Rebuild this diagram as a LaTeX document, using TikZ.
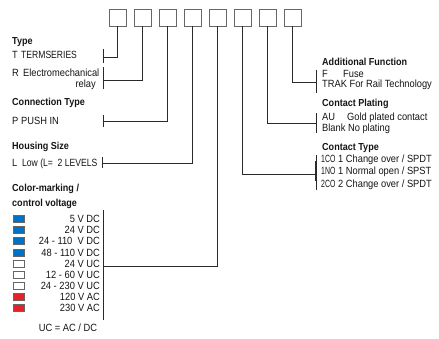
\documentclass[tikz,border=0pt]{standalone}
\usepackage{fontspec}
\setmainfont{Liberation Sans}[FakeStretch=0.89]
\newfontfamily\condA{Liberation Sans}[FakeStretch=0.82]
\newfontfamily\condB{Liberation Sans}[FakeStretch=0.66]
\definecolor{mkblue}{HTML}{0072C6}
\definecolor{mkred}{HTML}{E8202A}
\definecolor{ln}{HTML}{2A2A2A}
\begin{document}
\begin{tikzpicture}[x=1bp,y=-1bp,
  slot/.style={draw=black!60, line width=0.8bp, minimum width=17bp, minimum height=17bp, inner sep=0pt},
  conn/.style={draw=ln, line width=0.8bp},
  bar/.style={draw=ln, line width=0.8bp},
  txt/.style={anchor=base west, inner sep=0pt, font=\fontsize{10.5}{12}\selectfont, text=black!92},
  ttl/.style={txt, font=\fontsize{10.2}{12}\selectfont\bfseries},
  rtxt/.style={anchor=base east, inner sep=0pt, font=\fontsize{10.5}{12}\selectfont, text=black!92},
  colmark/.style={draw=black!60, line width=0.6bp, minimum width=11bp, minimum height=7bp, inner sep=0pt},
]
\useasboundingbox (0,0) rectangle (439,338);
% boxes
\foreach \i in {1,...,8} \node[slot] (b\i) at ({117.5+25*(\i-1)},17.5) {};

% left connectors
\coordinate (jT) at (103,57);
\coordinate (jR) at (103,80);
\coordinate (jP) at (103,121);
\coordinate (jL) at (102,163);
\coordinate (jC) at (103,266);
\draw[conn] (b1.south) |- (jT);
\draw[conn] (b2.south) |- (jR);
\draw[conn] (b3.south) |- (jP);
\draw[conn] (b4.south) |- (jL);
\draw[conn] (b5.south) |- (jC);
\draw[bar] (103,49) -- (103,63);
\draw[bar] (103,67) -- (103,89);
\draw[bar] (103,115) -- (103,127);
\draw[bar] (102,157) -- (102,168);
\draw[bar] (103,210) -- (103,320);

% right connectors
\coordinate (jA) at (316,82);
\coordinate (jG) at (316,123);
\coordinate (jK) at (316,174);
\draw[conn] (b8.south) |- (jA);
\draw[conn] (b7.south) |- (jG);
\draw[conn] (b6.south) |- (jK);
\draw[bar] (316,70) -- (316,93);
\draw[bar] (316,113) -- (316,133);
\draw[bar] (316,155) -- (316,190);
\draw[draw=ln, line width=2bp] (316,161) -- (316,181);

% left texts
\node[ttl] (tType) at (12,44.7) {Type};
\node[txt] (tT) at (12,58.7) {T};
\node[txt, font=\fontsize{10.5}{12}\selectfont\condA] (tTe) at (21,58.7) {TERMSERIES};
\node[txt] (tR) at (12,76.7) {R};
\node[txt] (tRe) at (23,76.7) {Electromechanical};
\node[rtxt] (tRl) at (96,87.7) {relay};
\node[ttl] (tConn) at (12,105.7) {Connection Type};
\node[txt] (tP) at (12,124.7) {P};
\node[txt] (tPu) at (21,124.7) {PUSH IN};
\node[ttl] (tHous) at (12,149.7) {Housing Size};
\node[txt] (tL) at (12,166.2) {L};
\node[txt, font=\fontsize{10.5}{12}\selectfont\condA] (tLo) at (22,166.2) {Low (L=\ \ 2 LEVELS};
\node[ttl] (tCol1) at (12,191.7) {Color-marking /};
\node[ttl] (tCol2) at (12,206.7) {control voltage};

% colour rows
\foreach \c/\v [count=\k from 0] in {mkblue/5 V DC, mkblue/24 V DC, mkblue/24 - 110\ \ V DC, mkblue/48 - 110 V DC, white/24 V UC, white/12 - 60 V UC, white/24 - 230 V UC, mkred/120 V AC, mkred/230 V AC}{
  \node[colmark, fill=\c] (m\k) at (19,{219+11.1*\k}) {};
  \node[rtxt] (v\k) at (100,{222.7+11.1*\k}) {\v};
}
\node[anchor=base, inner sep=0pt, font=\fontsize{10.5}{12}\selectfont, text=black!92] (tUC) at (68,331.7) {UC = AC / DC};

% right texts
\node[ttl] (tAdd) at (322,65.7) {Additional Function};
\node[txt] (tF) at (322,77.2) {F};
\node[txt] (tFu) at (343,77.2) {Fuse};
\node[txt] (tTr) at (322,87.7) {TRAK For Rail Technology};
\node[ttl] (tPl) at (322,106.7) {Contact Plating};
\node[txt] (tAU) at (322,120.7) {AU};
\node[txt] (tGo) at (347,120.7) {Gold plated contact};
\node[txt] (tBl) at (322,131.7) {Blank No plating};
\node[ttl] (tCT) at (322,150.7) {Contact Type};
\node[txt, font=\fontsize{10.5}{12}\selectfont\condB] (c1) at (321,162.2) {1CO};
\node[txt] (c1t) at (338,162.2) {1 Change over / SPDT};
\node[txt, font=\fontsize{10.5}{12}\selectfont\condB] (c2) at (321,174.7) {1NO};
\node[txt] (c2t) at (338,174.7) {1 Normal open / SPST};
\node[txt, font=\fontsize{10.5}{12}\selectfont\condB] (c3) at (321,187.2) {2CO};
\node[txt] (c3t) at (338,187.2) {2 Change over / SPDT};
\end{tikzpicture}
\end{document}
